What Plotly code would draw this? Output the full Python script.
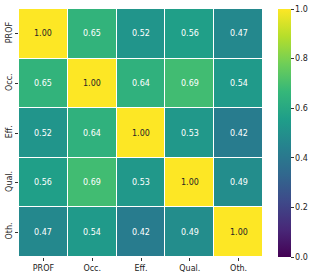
import plotly.graph_objects as go

labels = ["PROF", "Occ.", "Eff.", "Qual.", "Oth."]
values = [
    [1.00, 0.65, 0.52, 0.56, 0.47],
    [0.65, 1.00, 0.64, 0.69, 0.54],
    [0.52, 0.64, 1.00, 0.53, 0.42],
    [0.56, 0.69, 0.53, 1.00, 0.49],
    [0.47, 0.54, 0.42, 0.49, 1.00],
]
cbar_ticks = [0.0, 0.2, 0.4, 0.6, 0.8, 1.0]

fig = go.Figure(go.Heatmap(
    z=values, x=labels, y=labels,
    colorscale="Viridis", zmin=0, zmax=1,
    xgap=1, ygap=1,
    colorbar=dict(
        x=1.061, xanchor="left", xref="paper",
        y=0.5, yanchor="middle",
        thickness=13, lenmode="pixels", len=248, ypad=0, xpad=0,
        outlinewidth=0,
        tickvals=cbar_ticks, tickformat=".1f",
        ticks="outside", ticklen=3, tickcolor="#333",
        tickfont=dict(family="DejaVu Sans", size=8, color="#222"),
    ),
    hoverinfo="skip",
))

for i, row in enumerate(values):
    for j, v in enumerate(row):
        fig.add_annotation(
            x=labels[j], y=labels[i], text=f"{v:.2f}", showarrow=False,
            font=dict(family="DejaVu Sans", size=8,
                      color="#262626" if v > 0.8 else "white"),
        )

fig.update_xaxes(
    showgrid=False, zeroline=False, ticks="outside", ticklen=3, automargin=False,
    tickcolor="#333", tickfont=dict(family="DejaVu Sans", size=8, color="#222"),
)
fig.update_yaxes(
    showgrid=False, zeroline=False, ticks="outside", ticklen=3, automargin=False,
    tickcolor="#333", autorange="reversed", tickangle=-90, ticklabelstandoff=0,
    tickfont=dict(family="DejaVu Sans", size=8, color="#222"),
)
fig.update_layout(
    width=317, height=277,
    margin=dict(l=19, r=51, t=9, b=20),
    plot_bgcolor="white", paper_bgcolor="white",
)
fig.write_html("out.html", config={"displayModeBar": False},
               post_script="document.body.style.margin='0';")
